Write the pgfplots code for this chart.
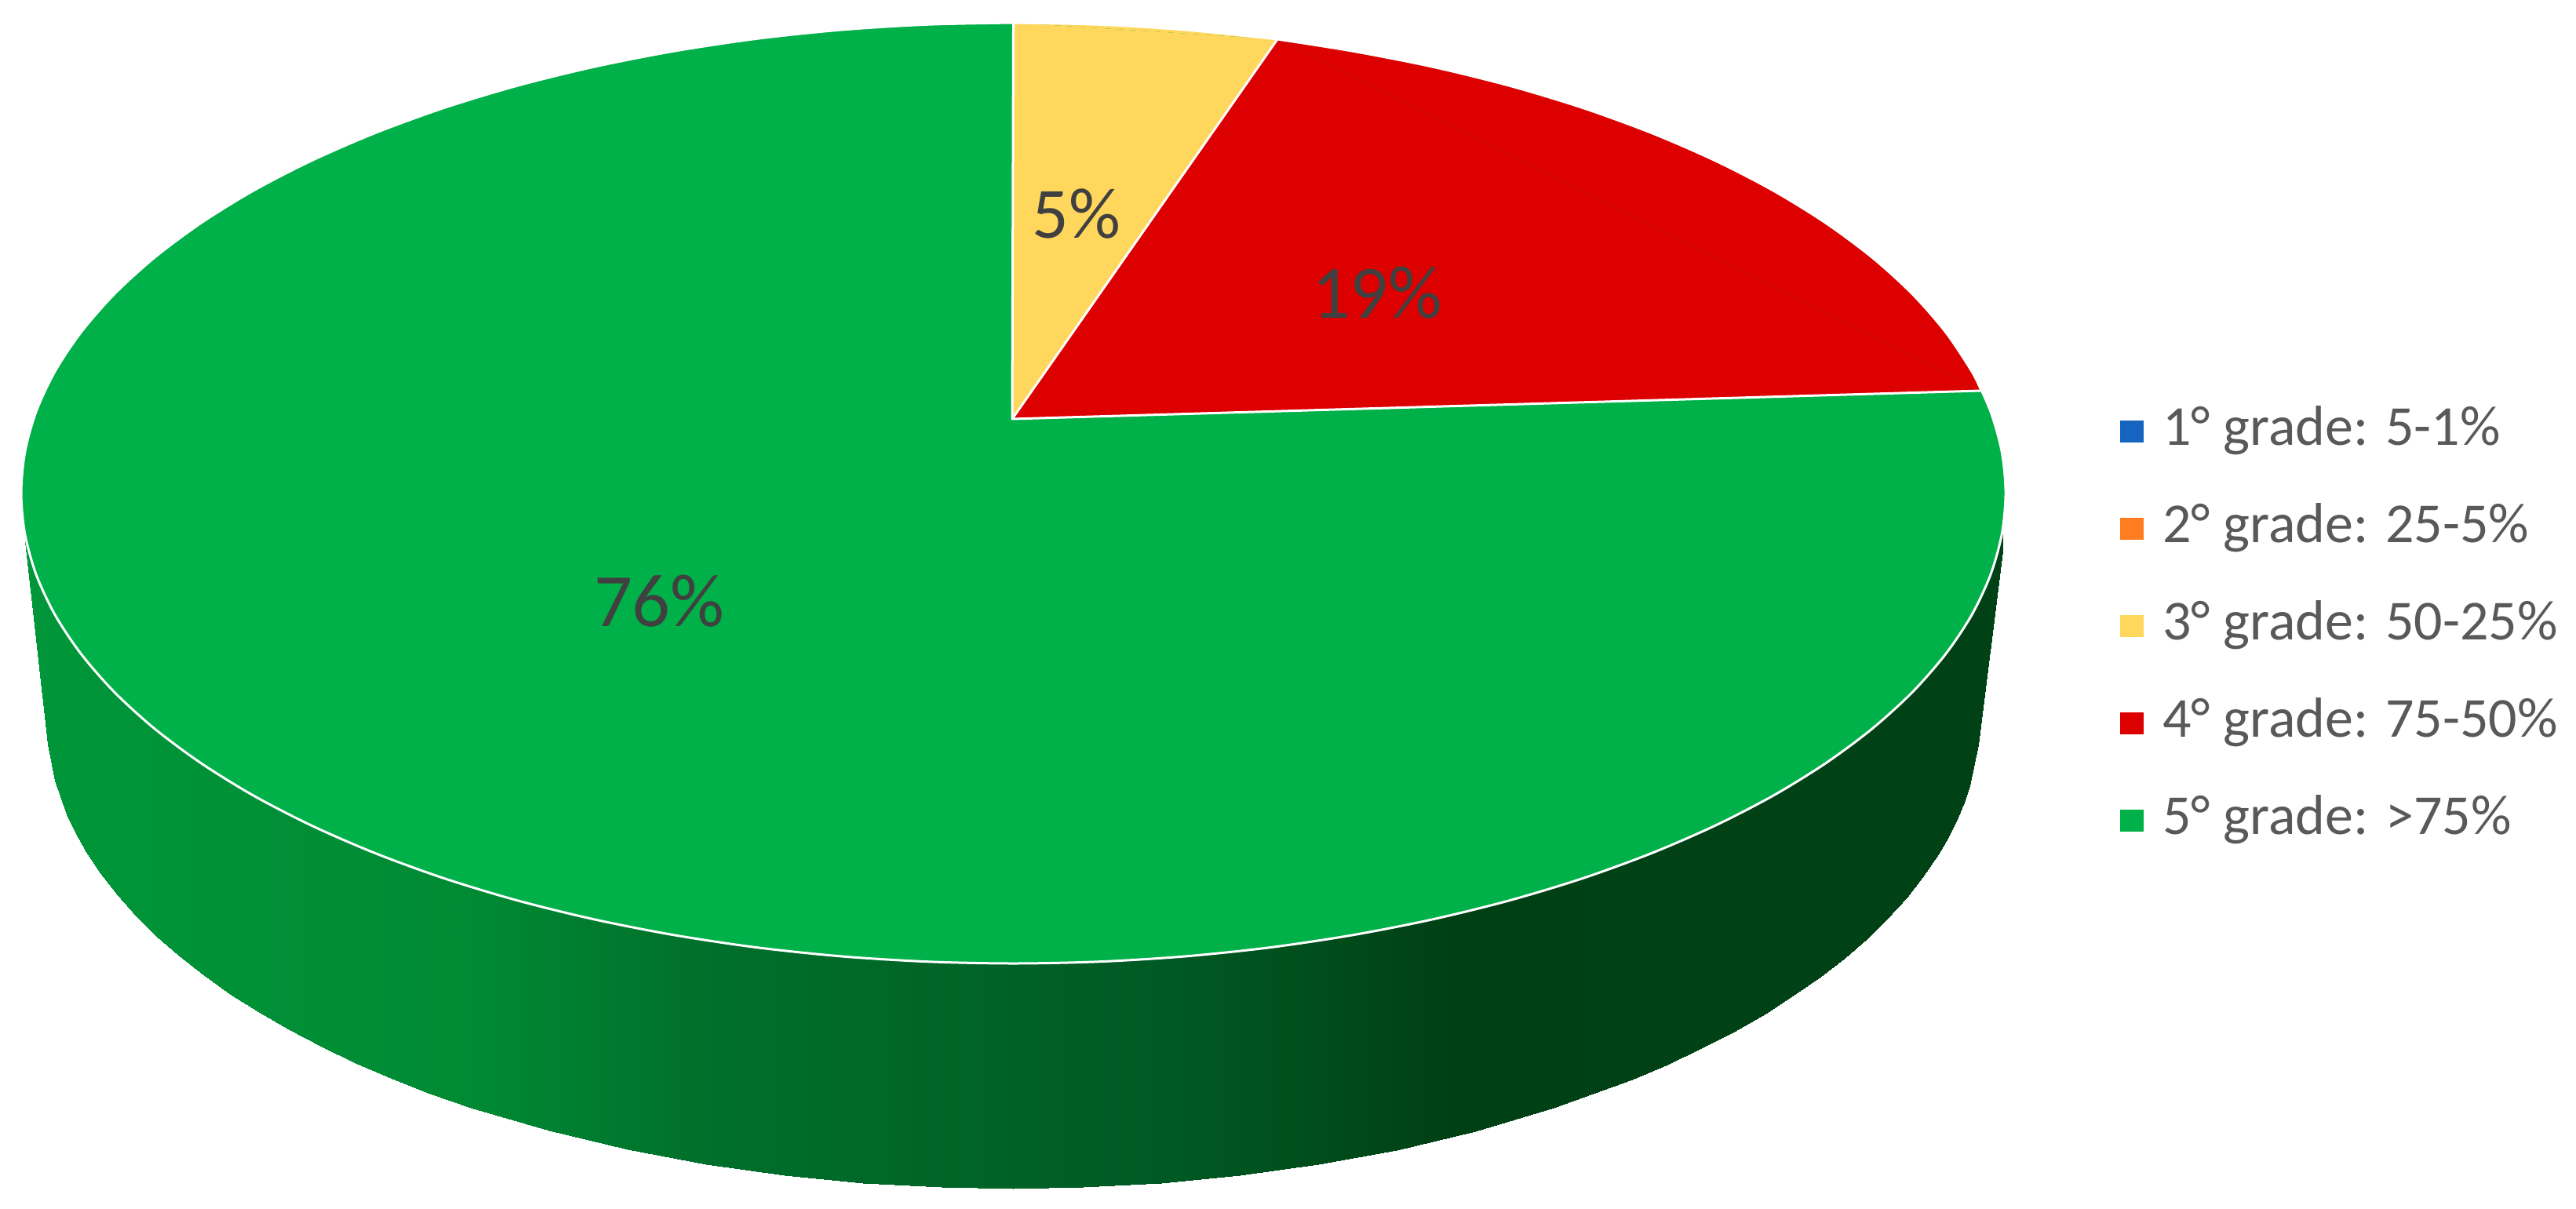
\documentclass[border=0pt]{standalone}
\usepackage{fontspec}
\setmainfont{Carlito}
\usepackage{pgfplots}
\pgfplotsset{compat=1.18}

\definecolor{grade1}{RGB}{21,101,192}
\definecolor{grade2}{RGB}{255,124,32}
\definecolor{grade3}{RGB}{255,215,92}
\definecolor{grade4}{RGB}{220,0,0}
\definecolor{grade5}{RGB}{0,176,72}
\definecolor{labeltext}{RGB}{64,64,64}
\definecolor{legendtext}{RGB}{89,89,89}

\begin{document}
\begin{tikzpicture}
\path[use as bounding box] (0,0) rectangle (820.75pt,385pt);
\begin{axis}[
    at={(0,0)}, anchor=south west,
    scale only axis,
    width=820.75pt, height=385pt,
    xmin=0, xmax=3283,
    ymin=0, ymax=1540,
    y dir=reverse,
    hide axis,
    clip=false,
    colormap={side}{rgb255(32pt)=(0,150,57); rgb255(600pt)=(0,138,51); rgb255(887pt)=(0,112,43); rgb255(1174pt)=(0,102,40); rgb255(1461pt)=(0,90,35); rgb255(1652pt)=(0,79,28); rgb255(1844pt)=(0,64,21); rgb255(2552pt)=(0,66,22)},
    point meta min=32, point meta max=2552,
    legend cell align=left,
    legend style={
        draw=none, fill=none, inner sep=0pt,
        at={(axis description cs:0.8227,0.6656)}, anchor=north west,
        row sep=14pt, column sep=6pt,
        nodes={inner sep=0pt, text height=13pt, text depth=4pt, text=legendtext},
        font=\fontsize{18}{18}\selectfont,
    },
    legend image code/.code={\fill[#1] (0pt,-3.25pt) rectangle (7.25pt,3.25pt);},
]
% side wall, x columns with the rim and the lower edge
\addplot[surf, shader=interp, mesh/rows=2, point meta=x, forget plot] table {
x y
32 640
61 640
70 640
85 640
95 640
110 640
128 640
150 640
173 640
200 640
228 640
260 640
293 640
330 640
368 640
410 640
453 640
500 640
548 640
600 640
700 640
800 640
900 640
1000 640
1100 640
1200 640
1291 640
1380 640
1480 640
1580 640
1680 640
1780 640
1880 640
1980 640
2080 640
2125 640
2170 640
2210 640
2250 640
2285 640
2320 640
2350 640
2380 640
2405 640
2430 640
2450 640
2470 640
2483 640
2495 640
2503 640
2510 640
2521 640
2552 640

32 690
61 949
70 995
85 1038
95 1059
110 1086
128 1113
150 1141
173 1167
200 1194
228 1218
260 1243
293 1267
330 1290
368 1312
410 1334
453 1355
500 1375
548 1394
600 1412
700 1441
800 1465
900 1484
1000 1498
1100 1508
1200 1513
1291 1515
1380 1513
1480 1508
1580 1498
1680 1484
1780 1466
1880 1442
1980 1412
2080 1376
2125 1357
2170 1335
2210 1315
2250 1292
2285 1269
2320 1245
2350 1222
2380 1196
2405 1171
2430 1144
2450 1118
2470 1089
2483 1067
2495 1042
2503 1023
2510 1002
2521 949
2552 703
};
% top face: the whole rim in green, then the two smaller slices over it
\addplot[smooth, fill=grade5, draw=white, line width=0.75pt, forget plot] coordinates {
(1291.5,29)(1181.3,31.3)(1071.9,38.1)(964.2,49.4)(859.0,65.2)(757.1,85.2)(659.2,109.3)(566.2,137.4)(478.7,169.3)(397.4,204.6)(322.8,243.1)(255.7,284.6)(196.4,328.7)(145.5,375.1)(103.3,423.5)(70.1,473.3)(46.2,524.4)(31.8,576.2)(27,628.5)
(31.8,680.8)(46.2,732.6)(70.1,783.7)(103.3,833.5)(145.5,881.9)(196.4,928.3)(255.7,972.4)(322.8,1013.9)(397.4,1052.4)(478.7,1087.7)(566.2,1119.6)(659.2,1147.7)(757.1,1171.8)(859.0,1191.8)(964.2,1207.6)(1071.9,1218.9)(1181.3,1225.7)(1291.5,1228)
(1401.7,1225.7)(1511.1,1218.9)(1618.8,1207.6)(1724.0,1191.8)(1825.9,1171.8)(1923.8,1147.7)(2016.8,1119.6)(2104.3,1087.7)(2185.6,1052.4)(2260.2,1013.9)(2327.3,972.4)(2386.6,928.3)(2437.5,881.9)(2479.7,833.5)(2512.9,783.7)(2536.8,732.6)(2551.2,680.8)(2556,628.5)
(2551.2,576.2)(2536.8,524.4)(2512.9,473.3)(2479.7,423.5)(2437.5,375.1)(2386.6,328.7)(2327.3,284.6)(2260.2,243.1)(2185.6,204.6)(2104.3,169.3)(2016.8,137.4)(1923.8,109.3)(1825.9,85.2)(1724.0,65.2)(1618.8,49.4)(1511.1,38.1)(1401.7,31.3)(1291.5,29)
};
% red slice
\addplot[fill=grade4, draw=none, forget plot] coordinates {(1290,534)(1628,50)(2525,498)} -- cycle;
\addplot[smooth, fill=grade4, draw=white, line width=0.75pt, forget plot] coordinates {
(1628,50)(1724.0,65.2)(1825.9,85.2)(1923.8,109.3)(2016.8,137.4)(2104.3,169.3)(2185.6,204.6)(2260.2,243.1)(2327.3,284.6)(2386.6,328.7)(2437.5,375.1)(2479.7,423.5)(2512.9,473.3)(2525,498)
};
% yellow slice
\addplot[fill=grade3, draw=none, forget plot] coordinates {(1290,534)(1291.5,29)(1628,50)} -- cycle;
\addplot[smooth, fill=grade3, draw=white, line width=0.75pt, forget plot] coordinates {
(1291.5,29)(1401.7,31.3)(1511.1,38.1)(1628,50)
};
% white edges between the slices
\addplot[white, line width=0.75pt, line join=round, forget plot] coordinates {(1291.5,29)(1290,534)(2525,498)};
\addplot[white, line width=0.75pt, forget plot] coordinates {(1290,534)(1628,50)};

\node[text=labeltext, font=\fontsize{23}{23}\selectfont] at (axis cs:1372,273) {5\%};
\node[text=labeltext, font=\fontsize{24}{24}\selectfont] at (axis cs:1755,373) {19\%};
\node[text=labeltext, font=\fontsize{24}{24}\selectfont] at (axis cs:840,766) {76\%};

\addlegendimage{grade1}
\addlegendentry{1° grade: 5-1\%}
\addlegendimage{grade2}
\addlegendentry{2° grade: 25-5\%}
\addlegendimage{grade3}
\addlegendentry{3° grade: 50-25\%}
\addlegendimage{grade4}
\addlegendentry{4° grade: 75-50\%}
\addlegendimage{grade5}
\addlegendentry{5° grade: >75\%}
\end{axis}
\end{tikzpicture}
\end{document}
